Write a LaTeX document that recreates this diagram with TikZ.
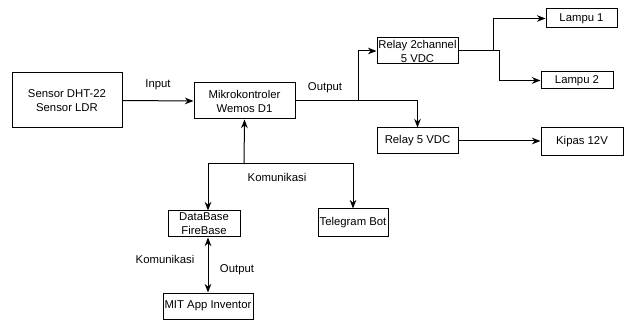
\documentclass[tikz,border=0pt]{standalone}
\usepackage{fontspec}
\setmainfont{Liberation Sans}
\usetikzlibrary{arrows.meta}
\begin{document}
\begin{tikzpicture}[x=0.75pt,y=-0.75pt,
  box/.style={draw, line width=0.75pt, inner sep=0pt, align=center, font=\fontsize{8.5}{10.5}\selectfont},
  lbl/.style={font=\fontsize{8.5}{10.5}\selectfont, inner sep=0pt},
  conn/.style={line width=0.75pt},
  arr/.style={conn, -{Stealth[length=6.5pt,width=5pt]}}]
\useasboundingbox (0,0) rectangle (624,320);
\node[box, minimum width=110*0.75pt, minimum height=55*0.75pt] (sensor) at (67,100.5) {Sensor DHT-22\\Sensor LDR};
\node[box, minimum width=101*0.75pt, minimum height=36*0.75pt] (mikro) at (244.5,101) {Mikrokontroler\\Wemos D1};
\node[box, minimum width=81*0.75pt, minimum height=26*0.75pt] (relay2) at (417.5,51) {Relay 2channel\\5 VDC};
\node[box, minimum width=71*0.75pt, minimum height=19*0.75pt] (lampu1) at (581.5,18.5) {Lampu 1};
\node[box, minimum width=72*0.75pt, minimum height=17*0.75pt] (lampu2) at (577,80.5) {Lampu 2};
\node[box, minimum width=81*0.75pt, minimum height=26*0.75pt] (relay5) at (417.5,141) {Relay 5 VDC};
\node[box, minimum width=82*0.75pt, minimum height=28*0.75pt] (kipas) at (582,141.5) {Kipas 12V};
\node[box, minimum width=72*0.75pt, minimum height=26*0.75pt] (db) at (204,224) {DataBase\\FireBase};
\node[box, minimum width=70*0.75pt, minimum height=28*0.75pt] (tele) at (353,223) {Telegram Bot};
\node[box, minimum width=90*0.75pt, minimum height=26*0.75pt] (mit) at (208,306) {MIT App Inventor};

\node[lbl] (tin) at (158,85) {Input};
\node[lbl] (tout1) at (325,88) {Output};
\node[lbl] (tkom1) at (277,177) {Komunikasi};
\node[lbl] (tkom2) at (165,259) {Komunikasi};
\node[lbl] (tout2) at (237,270) {Output};

\draw[arr] (sensor.east) -- (mikro.west);
\coordinate (j1) at (358,101);
\draw[conn] (mikro.east) -- (j1);
\draw[arr] (j1) |- (relay2.west);
\draw[arr] (j1) -| (relay5.north);
\draw[arr] (relay2.east) -- ++(35,0) |- (lampu1.west);
\draw[arr] (relay2.east) -- ++(41,0) |- (lampu2.west);
\draw[arr] (relay5.east) -- (relay5.east -| kipas.west);
\coordinate (j2) at (244,164);
\draw[arr] (j2) -- (mikro.south);
\draw[arr] (j2) -| ([xshift=4*0.75pt]db.north);
\draw[arr] (j2) -| (tele.north);
\draw[conn, {Stealth[length=6.5pt,width=5pt]}-{Stealth[length=6.5pt,width=5pt]}] ([xshift=4*0.75pt]db.south) -- (mit.north);
\end{tikzpicture}
\end{document}
